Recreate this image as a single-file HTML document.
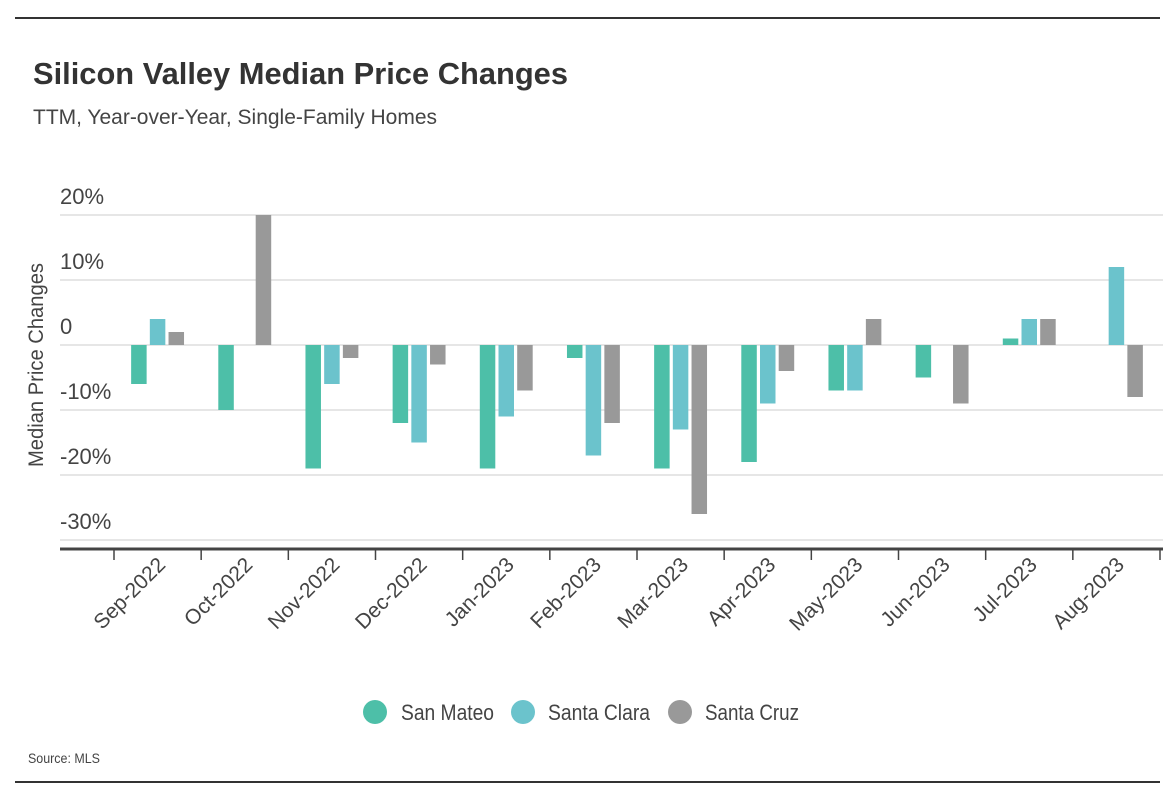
<!DOCTYPE html>
<html><head><meta charset="utf-8"><style>
body{margin:0;background:#fff;}
svg{display:block;font-family:"Liberation Sans Narrow","Liberation Sans",sans-serif;}
</style></head><body>
<svg id="c" width="1176" height="802">
<line x1="15" y1="18" x2="1160" y2="18" stroke="#333" stroke-width="2"/>
<text x="33" y="84" font-size="31" font-weight="bold" fill="#333" textLength="535" lengthAdjust="spacingAndGlyphs">Silicon Valley Median Price Changes</text>
<text x="33" y="124" font-size="21" fill="#444" textLength="404" lengthAdjust="spacingAndGlyphs">TTM, Year-over-Year, Single-Family Homes</text>
<g id="grid"></g><g id="bars"></g><g id="xaxis"></g>
<text transform="translate(43,365) rotate(-90)" text-anchor="middle" font-size="21" fill="#444" textLength="204" lengthAdjust="spacingAndGlyphs">Median Price Changes</text>
<g>
<g><circle cx="375" cy="712" r="12" fill="#4dbfa8"/><text x="401" y="720" font-size="22" fill="#444" textLength="93" lengthAdjust="spacingAndGlyphs">San Mateo</text></g>
<g><circle cx="523" cy="712" r="12" fill="#6bc3cc"/><text x="548" y="720" font-size="22" fill="#444" textLength="102" lengthAdjust="spacingAndGlyphs">Santa Clara</text></g>
<g><circle cx="680" cy="712" r="12" fill="#999"/><text x="705" y="720" font-size="22" fill="#444" textLength="94" lengthAdjust="spacingAndGlyphs">Santa Cruz</text></g>
</g>
<text x="28" y="763" font-size="14" fill="#444" textLength="72" lengthAdjust="spacingAndGlyphs">Source: MLS</text>
<line x1="15" y1="782" x2="1160" y2="782" stroke="#333" stroke-width="2"/>
</svg>
<script>
const categories=["Sep-2022","Oct-2022","Nov-2022","Dec-2022","Jan-2023","Feb-2023","Mar-2023","Apr-2023","May-2023","Jun-2023","Jul-2023","Aug-2023"];
const sanMateo=[-6,-10,-19,-12,-19,-2,-19,-18,-7,-5,1,0];
const santaClara=[4,0,-6,-15,-11,-17,-13,-9,-7,0,4,12];
const santaCruz=[2,20,-2,-3,-7,-12,-26,-4,4,-9,4,-8];
const yTicks=[20,10,0,-10,-20,-30];
const yTickLabels=["20%","10%","0","-10%","-20%","-30%"];
const seriesNames=["san-mateo","santa-clara","santa-cruz"];
const colors=["#4dbfa8","#6bc3cc","#999999"];
const NS="http://www.w3.org/2000/svg";
const x0=114,bandW=(1160-114)/categories.length;
const y=v=>345-v*6.5;
const xBand=i=>x0+i*bandW;
function mk(tag,attrs,parent){const e=document.createElementNS(NS,tag);for(const k in attrs)e.setAttribute(k,attrs[k]);parent.appendChild(e);return e;}
const grid=document.getElementById('grid');
yTicks.forEach((t,i)=>{
  const l=mk('line',{x1:60,x2:1163,y1:y(t),y2:y(t),stroke:'#ddd','stroke-width':1.5},grid);
  
  
  const tx=mk('text',{x:60,y:y(t)-11,'font-size':22,fill:'#444'},grid);
  tx.textContent=yTickLabels[i];
  
  
});
const bars=document.getElementById('bars');
const series=[sanMateo,santaClara,santaCruz];
const bw=15.5,gap=3.2;
categories.forEach((c,i)=>{
  const cx=xBand(i)+bandW/2;
  series.forEach((s,j)=>{
    const v=s[i]; if(v===0) return;
    const bx=cx-(3*bw+2*gap)/2+j*(bw+gap);
    const r=mk('rect',{x:bx,y:Math.min(y(v),y(0)),width:bw,height:Math.abs(y(v)-y(0)),fill:colors[j]},bars);
    
    
  });
});
const xa=document.getElementById('xaxis');
const ax=mk('line',{x1:60,x2:1163,y1:549,y2:549,stroke:'#444','stroke-width':3},xa);


for(let i=0;i<=categories.length;i++){
  const t=mk('line',{x1:xBand(i),x2:xBand(i),y1:549,y2:560,stroke:'#444','stroke-width':1.5},xa);
  
  
}
categories.forEach((c,i)=>{
  const px=xBand(i)+bandW/2+9,py=566;
  const t=mk('text',{x:px,y:py,'text-anchor':'end','font-size':21,fill:'#444',transform:`rotate(-45 ${px} ${py})`},xa);
  t.textContent=c;
  
  
});
</script>
</body></html>
